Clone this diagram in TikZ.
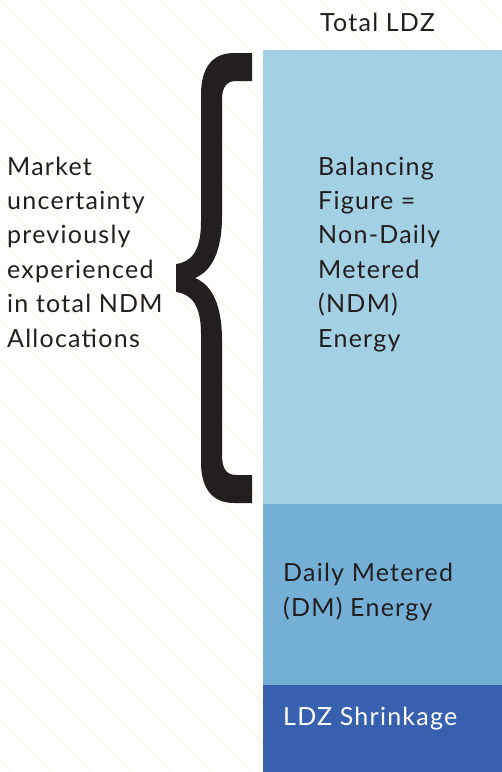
\documentclass[tikz,border=0pt]{standalone}
\usepackage{fontspec}
\setmainfont[LetterSpace=5]{Lato}
\definecolor{ink}{HTML}{231F20}
\definecolor{stripec}{HTML}{FCF8EC}
\definecolor{ndmc}{HTML}{A3D0E3}
\definecolor{dmc}{HTML}{74B0D6}
\definecolor{shrc}{HTML}{3761AE}
\tikzset{
  lbl/.style={font=\fontsize{25}{34.4}\selectfont, text=ink, align=left, inner sep=0pt, anchor=base west},
  stripe/.style={draw=stripec, line width=1.6pt},
}
\begin{document}
\begin{tikzpicture}[x=1pt,y=-1pt]
\useasboundingbox (0,0) rectangle (502,772);
\fill[white] (0,0) rectangle (502,772);
\begin{scope}
\clip (0,0) rectangle (502,772);
\foreach \i in {-800,-760,...,520} \draw[stripe] (\i,0) -- (\i+772,772);
\end{scope}
% bar segments
\fill[ndmc] (263,50) rectangle (502,504);
\fill[dmc] (263,504) rectangle (502,685);
\fill[shrc] (263,685) rectangle (502,772);
% brace
\fill[ink] (252,53) -- (234,53) .. controls (212,53) and (201,68) .. (201,95) -- (201,222)
  .. controls (201,250) and (192,262) .. (176,264) -- (176,292)
  .. controls (192,294) and (201,306) .. (201,334) -- (201,462)
  .. controls (201,488) and (212,503) .. (234,503) -- (252,503) -- (252,475) -- (236,475)
  .. controls (226,475) and (222,468) .. (222,455) -- (222,340)
  .. controls (222,305) and (212,285) .. (195,278)
  .. controls (212,271) and (222,251) .. (222,216) -- (222,100)
  .. controls (222,88) and (226,81) .. (236,81) -- (252,81) -- cycle;
% texts
\node[lbl] (total) at (320,31) {Total LDZ};
\node[lbl] (market) at (7,347) {Market\\uncertainty\\previously\\experienced\\in total NDM\\Allocations};
\node[lbl] (ndm) at (318,347) {Balancing\\Figure =\\Non-Daily\\Metered\\(NDM)\\Energy};
\node[lbl] (dm) at (283,616) {Daily Metered\\(DM) Energy};
\node[lbl, text=white] (shr) at (283,725) {LDZ Shrinkage};
\end{tikzpicture}
\end{document}
